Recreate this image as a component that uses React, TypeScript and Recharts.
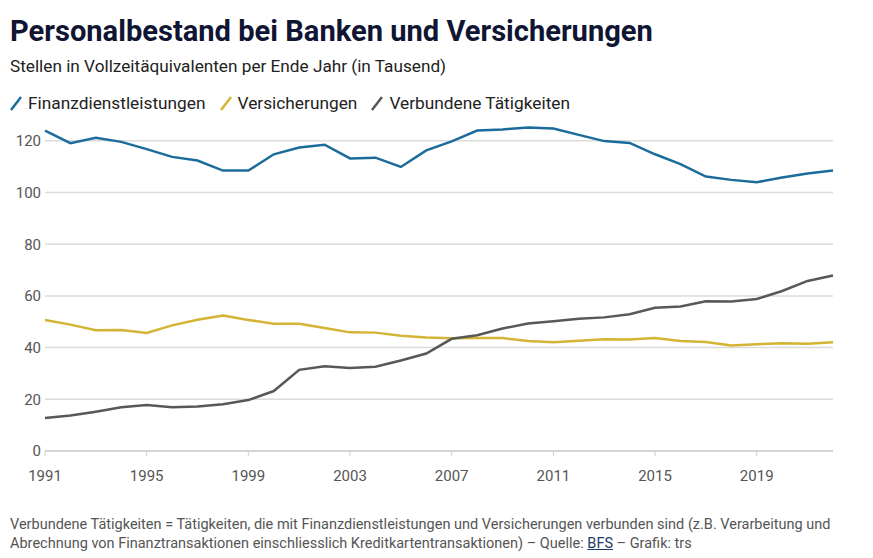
import React from "react";
import { LineChart, Line, XAxis, YAxis, CartesianGrid } from "recharts";

const years = [
  1991, 1992, 1993, 1994, 1995, 1996, 1997, 1998, 1999, 2000, 2001, 2002, 2003, 2004, 2005, 2006,
  2007, 2008, 2009, 2010, 2011, 2012, 2013, 2014, 2015, 2016, 2017, 2018, 2019, 2020, 2021, 2022,
];
const finanz = [
  124, 119.1, 121.2, 119.6, 116.8, 113.8, 112.4, 108.5, 108.5, 114.8, 117.4, 118.5, 113.2, 113.5, 109.9, 116.3,
  119.8, 124, 124.4, 125.2, 124.8, 122.3, 119.9, 119.2, 114.8, 111, 106.2, 104.9, 104, 105.8, 107.4, 108.5,
];
const versicherungen = [
  50.7, 48.9, 46.7, 46.8, 45.7, 48.6, 50.8, 52.4, 50.7, 49.2, 49.2, 47.6, 45.9, 45.8, 44.6, 43.9,
  43.6, 43.7, 43.7, 42.6, 42.1, 42.7, 43.2, 43.1, 43.7, 42.6, 42.2, 40.8, 41.3, 41.7, 41.5, 42.1,
];
const verbundene = [
  12.8, 13.7, 15.2, 16.9, 17.8, 16.9, 17.2, 18.1, 19.7, 23.2, 31.4, 32.8, 32.1, 32.6, 35, 37.7,
  43.4, 44.8, 47.4, 49.3, 50.2, 51.2, 51.7, 52.9, 55.4, 55.9, 57.9, 57.8, 58.8, 61.9, 65.8, 67.9,
];
const xTicks = [1991, 1995, 1999, 2003, 2007, 2011, 2015, 2019];
const yTicks = [0, 20, 40, 60, 80, 100, 120];

const seriesInfo = [
  { key: "finanz", name: "Finanzdienstleistungen", color: "#1b6c9a" },
  { key: "versicherungen", name: "Versicherungen", color: "#d4b434" },
  { key: "verbundene", name: "Verbundene Tätigkeiten", color: "#585858" },
];

const data = years.map((y, i) => ({
  year: y,
  finanz: finanz[i],
  versicherungen: versicherungen[i],
  verbundene: verbundene[i],
}));

const FONT = "Roboto, 'Noto Sans', sans-serif";

const LegendRow = () => (
  <div style={{ display: "flex", alignItems: "center", fontSize: 17.3, color: "#222", whiteSpace: "nowrap" }}>
    {seriesInfo.map((s) => (
      <div key={s.key} style={{ display: "flex", alignItems: "center", marginRight: 12 }}>
        <svg width={16} height={18} style={{ marginRight: 4 }}>
          <line x1={3} y1={16} x2={13} y2={3} stroke={s.color} strokeWidth={2.5} />
        </svg>
        <span>{s.name}</span>
      </div>
    ))}
  </div>
);

export default function App() {
  return (
    <div
      style={{
        position: "fixed",
        left: 0,
        top: 0,
        width: 873,
        height: 558,
        background: "#fff",
        fontFamily: FONT,
        overflow: "hidden",
      }}
    >
      <div
        style={{
          position: "absolute",
          left: 10,
          top: 14,
          fontSize: 29.1,
          fontWeight: 700,
          color: "#0f1533",
          whiteSpace: "nowrap",
        }}
      >
        Personalbestand bei Banken und Versicherungen
      </div>
      <div
        style={{
          position: "absolute",
          left: 10,
          top: 56,
          fontSize: 17.2,
          color: "#222",
          whiteSpace: "nowrap",
        }}
      >
        Stellen in Vollzeitäquivalenten per Ende Jahr (in Tausend)
      </div>
      <div style={{ position: "absolute", left: 8, top: 93 }}>
        <LegendRow />
      </div>
      <div style={{ position: "absolute", left: 0, top: 0 }}>
        <LineChart
          width={873}
          height={558}
          data={data}
          margin={{ top: 115, right: 40, bottom: 77, left: 0 }}
        >
          <CartesianGrid
            vertical={false}
            horizontalValues={yTicks}
            stroke="#dcdcdc"
            strokeWidth={1.5}
          />
          <XAxis
            dataKey="year"
            type="number"
            domain={[1991, 2022]}
            ticks={xTicks}
            height={30}
            tickSize={5}
            tickMargin={14}
            axisLine={{ stroke: "#cfcfcf", strokeWidth: 1.5 }}
            tickLine={{ stroke: "#cfcfcf" }}
            tick={{ fill: "#555", fontSize: 15, fontFamily: FONT }}
          />
          <YAxis
            domain={[0, 130]}
            ticks={yTicks}
            width={45}
            tickSize={0}
            tickMargin={4}
            axisLine={false}
            tickLine={false}
            tick={{ fill: "#555", fontSize: 15, fontFamily: FONT }}
          />
          {seriesInfo.map((s) => (
            <Line
              key={s.key}
              type="linear"
              dataKey={s.key}
              name={s.name}
              stroke={s.color}
              strokeWidth={2.5}
              dot={false}
              activeDot={false}
              isAnimationActive={false}
            />
          ))}
        </LineChart>
      </div>
      <div
        style={{
          position: "absolute",
          left: 10,
          top: 515,
          fontSize: 14.5,
          lineHeight: "19px",
          color: "#555",
          whiteSpace: "nowrap",
        }}
      >
        <div>
          Verbundene Tätigkeiten = Tätigkeiten, die mit Finanzdienstleistungen und Versicherungen verbunden sind (z.B. Verarbeitung und
        </div>
        <div>
          Abrechnung von Finanztransaktionen einschliesslich Kreditkartentransaktionen) – Quelle:{" "}
          <span style={{ color: "#1b3a6b", textDecoration: "underline" }}>BFS</span> – Grafik: trs
        </div>
      </div>
    </div>
  );
}
